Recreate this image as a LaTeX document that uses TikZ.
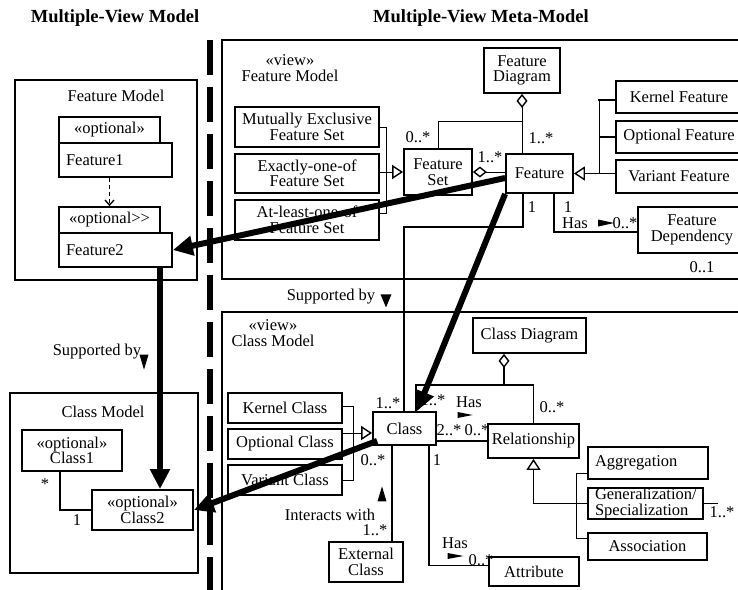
\documentclass[tikz,border=0pt]{standalone}
\usepackage{fontspec}
\setmainfont{Liberation Serif}
\usetikzlibrary{arrows.meta,positioning,shapes.geometric}
\newcommand\diagfont{\fontsize{16.5}{15.5}\selectfont}
\tikzset{
  box/.style={draw,line width=1.8pt,inner sep=1pt,align=center,font=\diagfont},
  leftbox/.style={box,align=left,inner xsep=7pt,inner ysep=0pt},
  frame/.style={draw,line width=1.4pt,inner sep=0pt},
  note/.style={font=\diagfont,inner sep=0.5pt,align=center},
  title/.style={font=\fontsize{18.5}{18.5}\selectfont\bfseries,inner sep=1pt},
  link/.style={line width=0.8pt},
  mid/.style={line width=1.8pt},
  strong/.style={line width=2.6pt},
  map/.style={line width=6pt,-{Triangle[length=20pt,width=19pt]}},
  gen/.style={-{Triangle[open,length=11pt,width=14pt,line width=1.4pt]}},
  agg/.style={{Diamond[open,length=14pt,width=11pt,line width=1.4pt]}-},
  dirtri/.style={isosceles triangle,isosceles triangle stretches,fill,draw=none,
    inner sep=0pt},
  divider/.style={line width=6pt,dash pattern=on 35pt off 12pt}
}

\begin{document}
\begin{tikzpicture}[x=1pt,y=-1pt]
\useasboundingbox (0,0) rectangle (738,589);

\node[title] (ttlmodel) at (115,18) {Multiple-View Model};
\node[title] (ttlmeta) at (481,18) {Multiple-View Meta-Model};

% divider between model and meta-model
\coordinate (divtop) at (210,40);
\coordinate (divbot) at (210,592);
\draw[divider] (divtop) -- (divbot);

% ---- multiple-view model: feature model
\node[frame,minimum width=182pt,minimum height=200pt] (fmframe) at (106,180) {};
\node[note] (fmtitle) at (116,96) {Feature Model};
\node[box,minimum width=101pt,minimum height=26pt] (opt1) at (109.5,130) {«optional»};
\node[leftbox,text width=99pt,minimum height=34pt] (f1) at (115.5,160) {Feature1};
\node[box,minimum width=101pt,minimum height=26pt] (opt2) at (109.5,220) {«optional{>}{>}};
\node[leftbox,text width=99pt,minimum height=34pt] (f2) at (115.5,250) {Feature2};
\draw[line width=1.4pt,dash pattern=on 4pt off 3pt,-{Straight Barb[length=5pt,width=9pt]}]
  (f1.south -| opt2.north) -- (opt2.north);

\node[note] (suplbl) at (97,352) {Supported by};
\node[dirtri,shape border rotate=-90,minimum width=9pt,minimum height=15pt] (suptri) at (144,358) {};

% ---- multiple-view model: class model
\node[frame,minimum width=188pt,minimum height=180pt] (cmframe) at (104,483) {};
\node[note] (cmtitle) at (103,412) {Class Model};
\node[box,minimum width=100pt,minimum height=41pt] (c1) at (72,450.5) {«optional»\\Class1};
\node[box,minimum width=101pt,minimum height=40pt] (c2) at (142.5,510) {«optional»\\Class2};
\draw[mid] ([xshift=-12pt]c1.south) |- (c2.west);
\node[note] at (45,484) {*};
\node[note] at (77,520) {1};

% ---- meta-model: feature model view
\node[frame,minimum width=523pt,minimum height=239pt] (fframe) at (483.5,159.5) {};
\node[note] (fview) at (290,68) {«view»\\Feature Model};
\node[box,minimum width=76pt,minimum height=45pt] (fd) at (522,70.5) {Feature\\Diagram};
\node[box,minimum width=67pt,minimum height=39pt] (feat) at (539.5,173.5) {Feature};
\node[box,minimum width=68pt,minimum height=46pt] (fs) at (438,172) {Feature\\Set};
\node[box,minimum width=144pt,minimum height=40pt] (me) at (307,127) {Mutually Exclusive\\Feature Set};
\node[box,minimum width=144pt,minimum height=39pt] (eo) at (307,173.5) {Exactly-one-of\\Feature Set};
\node[box,minimum width=144pt,minimum height=40pt] (al) at (307,220) {At-least-one-of\\Feature Set};
\node[box,minimum width=126pt,minimum height=32pt] (kf) at (679,97) {Kernel Feature};
\node[box,minimum width=126pt,minimum height=32pt] (of) at (679,137) {Optional Feature};
\node[box,minimum width=126pt,minimum height=33pt] (vf) at (679,176.5) {Variant Feature};
\node[box,minimum width=108pt,minimum height=46pt] (fdep) at (692,230) {Feature\\Dependency};

\coordinate (fdj) at (522,121);
\draw[link,agg] (fd.south) -- (fd.south |- feat.north);
\draw[link] (fs.north) |- (fdj);
\draw[link,agg] (fs.east) -- (fs.east -| feat.west);
\coordinate (fsb) at (386,172);
\draw[link] (me.east) -| (fsb);
\draw[link] ([yshift=7pt]al.east) -| (fsb);
\draw[link,gen] (eo.east |- fs.west) -- (fs.west);
\coordinate (kfb) at (599,173.5);
\draw[link] ([yshift=-3pt]kf.west) -| (kfb);
\draw[mid] ([yshift=-3pt]kf.west) -- ++(-17,0);
\draw[mid] (of.west) -- (of.west -| kfb);
\draw[link,gen] (vf.west |- feat.east) -- (feat.east);
\draw[mid] ([xshift=14.5pt]feat.south) |- ([yshift=-2pt]fdep.west);

\node[note] at (418,137) {0..*};
\node[note] at (490,157) {1..*};
\node[note] at (541,138) {1..*};
\node[note] at (532,207) {1};
\node[note] at (568,207) {1};
\node[note] (hasfd) at (575,223) {Has};
\node[dirtri,minimum width=7pt,minimum height=16pt] (hasfdtri) at (601,223) {};
\node[note] at (625,223) {0..*};
\node[note] at (702,267) {0..1};

\node[note] (supmeta) at (331,297) {Supported by};
\node[dirtri,shape border rotate=-90,minimum width=11pt,minimum height=13pt] (supmetatri) at (386,298) {};

% ---- meta-model: class model view
\node[frame,minimum width=523pt,minimum height=283pt] (cframe) at (483.5,453.5) {};
\node[note] (cview) at (273,333) {«view»\\Class Model};
\node[box,minimum width=113pt,minimum height=35pt] (cd) at (529.5,335.5) {Class Diagram};
\node[box,minimum width=63pt,minimum height=33pt] (cls) at (404.5,428.5) {Class};
\node[box,minimum width=91pt,minimum height=34pt] (rel) at (533.5,441) {Relationship};
\node[box,minimum width=114pt,minimum height=30pt] (kc) at (285,408) {Kernel Class};
\node[box,minimum width=114pt,minimum height=30pt] (oc) at (285,444) {Optional Class};
\node[box,minimum width=114pt,minimum height=30pt] (vc) at (285,480) {Variant Class};
\node[box,minimum width=74pt,minimum height=40pt] (ext) at (366,562) {External\\Class};
\node[box,minimum width=90pt,minimum height=29pt] (attr) at (534,571.5) {Attribute};
\node[leftbox,text width=106pt,minimum height=32pt] (aggr) at (648,463) {Aggregation};
\node[leftbox,text width=101pt,minimum height=31pt] (gspec) at (645.5,503.5) {Generalization/\\Specialization};
\node[box,minimum width=119pt,minimum height=27pt] (asc) at (647.5,546.5) {Association};

% feature -- class association
\coordinate (fcj) at (404,227);
\draw[strong] ([xshift=-16.5pt]feat.south) |- (fcj) -- (fcj |- cls.north);

\coordinate (cdj) at (504,386);
\draw[mid,agg] (cd.south -| cdj) -- (cdj);
\draw[mid] ([xshift=11.5pt]cls.north) -- ++(0,-26) -| (rel.north);
\draw[mid] (cls.east |- rel.west) -- (rel.west);
\coordinate (cgb) at (353,433);
\draw[link] ([yshift=2pt]kc.east) -| (cgb);
\draw[link] (vc.east) -| (cgb);
\draw[link,gen] (oc.east |- cgb) -- (cls.west |- cgb);
\coordinate (ej) at ([xshift=-12.5pt]cls.south);
\draw[mid] (ej) -- (ej |- ext.north);
\coordinate (aj) at ([xshift=24.5pt]cls.south);
\draw[mid] (aj) |- ([yshift=6pt]attr.west);
\draw[link,gen] (gspec.west) -| (rel.south);
\draw[link] ([yshift=-10pt]aggr.west) -- ++(-11,0) |- ([yshift=8.5pt]asc.west);
\draw[link] (gspec.east) -- ++(14,0);

\node[note] at (388,403) {1..*};
\node[note] at (433,400) {1..*};
\node[note] at (552,407) {0..*};
\node[note] (hasrel) at (469,402) {Has};
\node[dirtri,minimum width=6pt,minimum height=15pt] (hasreltri) at (460,415) {};
\node[note] at (449,430) {2..*};
\node[note] at (477,430) {0..*};
\node[note] at (373,460) {0..*};
\node[note] at (437,460) {1};
\node[dirtri,shape border rotate=90,minimum width=9pt,minimum height=15pt] (inttri) at (382,498) {};
\node[note] (intlbl) at (330,515) {Interacts with};
\node[note] at (375,530) {1..*};
\node[note] (hasattr) at (455,543) {Has};
\node[dirtri,minimum width=6pt,minimum height=16pt] (hasattrtri) at (450,556) {};
\node[note] at (481,560) {0..*};
\node[note] at (722,512) {1..*};

% mappings between model and meta-model
\coordinate (spine) at (160,0);
\draw[map] (f2.south -| spine) -- (c2.north -| spine);
\draw[map] ([yshift=-4.5pt]feat.west) -- (f2.east);
\draw[map] (feat.south west) -- ([xshift=12.5pt]cls.north);
\draw[map] ([shift={(5pt,5pt)}]cls.south west) -- (c2.east);
\end{tikzpicture}
\end{document}
